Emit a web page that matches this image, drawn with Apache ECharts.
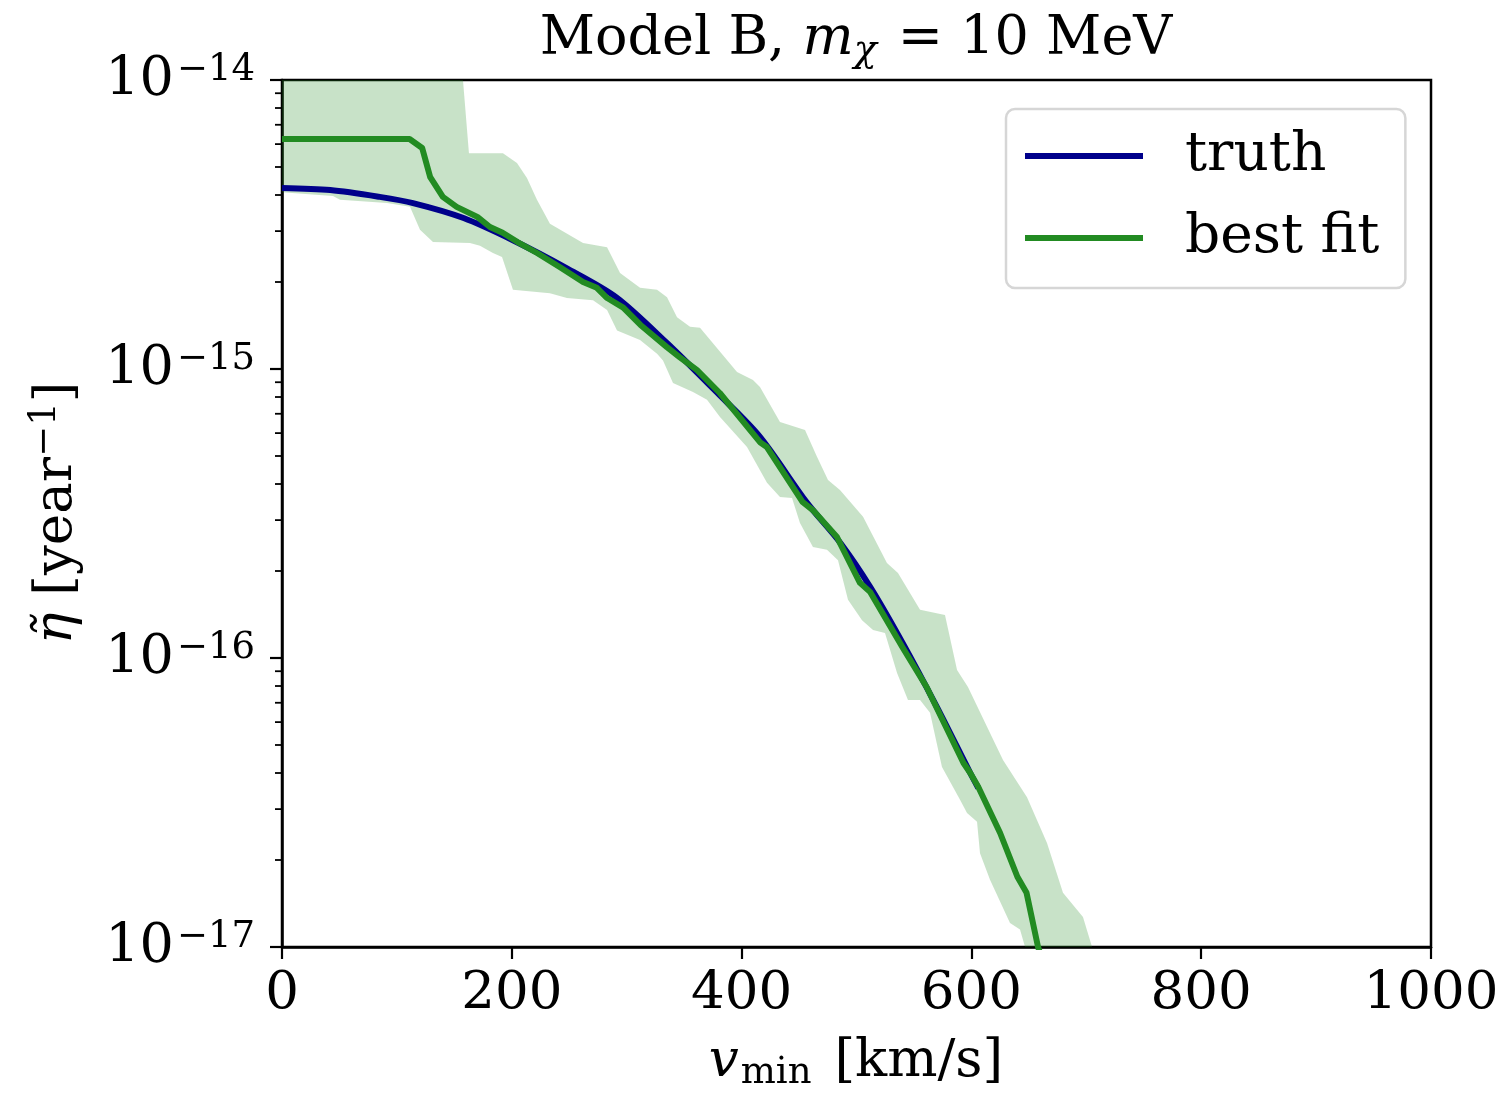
<!DOCTYPE html>
<html>
<head>
<meta charset="utf-8">
<script src="https://cdn.jsdelivr.net/npm/echarts@6/dist/echarts.min.js"></script>
<style>
html,body{margin:0;padding:0;background:#fff;overflow:hidden;}
#chart{width:1503px;height:1093px;}
</style>
</head>
<body>
<div id="chart"></div>
<script>
// ---- data ----
const xTicks = [0, 200, 400, 600, 800, 1000];
const yDecades = [1e-17, 1e-16, 1e-15, 1e-14];

// truth curve (v_min km/s, eta)
const truthV   = [0, 42, 85, 114, 158, 201, 248, 291, 335, 379, 416, 457, 486, 512, 540, 570, 599, 606];
const truthEta = [4.23e-15, 4.16e-15, 3.94e-15, 3.75e-15, 3.33e-15, 2.79e-15, 2.23e-15, 1.77e-15, 1.23e-15, 8.26e-16,
                  5.82e-16, 3.44e-16, 2.50e-16, 1.76e-16, 1.13e-16, 6.76e-17, 4.00e-17, 3.55e-17];

// best fit
const fitV   = [0, 111, 122, 129, 140, 152, 170, 181, 192, 205, 222, 242, 262, 274, 283, 297, 312, 335, 346, 361,
                381, 416, 422, 453, 462, 483, 503, 512, 540, 561, 593, 599, 606, 625, 640, 648, 658, 662];
const fitEta = [6.25e-15, 6.25e-15, 5.82e-15, 4.61e-15, 3.94e-15, 3.64e-15, 3.36e-15, 3.10e-15, 2.96e-15, 2.75e-15,
                2.52e-15, 2.25e-15, 2.00e-15, 1.91e-15, 1.76e-15, 1.63e-15, 1.42e-15, 1.19e-15, 1.10e-15, 9.93e-16,
                8.26e-16, 5.58e-16, 5.37e-16, 3.47e-16, 3.25e-16, 2.62e-16, 1.82e-16, 1.69e-16, 1.09e-16, 7.94e-17,
                4.34e-17, 4.00e-17, 3.58e-17, 2.48e-17, 1.75e-17, 1.54e-17, 1.00e-17, 9.0e-18];

// uncertainty band, upper edge
const bandUpV   = [0, 157.5, 162.7, 192.3, 204.5, 213.2, 221.9, 233.2, 262.0, 282.9, 294.2, 311.6, 326.4, 335.1, 343.8,
                   355.1, 363.8, 396.0, 409.9, 416.0, 433.4, 455.2, 465.6, 475.2, 485.6, 505.7, 526.5, 536.1, 555.3,
                   577.0, 587.5, 597.0, 616.2, 627.5, 648.4, 665.8, 679.7, 697.1, 705.0, 708];
const bandUpEta = [3e-14, 3e-14, 5.58e-15, 5.58e-15, 5.16e-15, 4.58e-15, 3.85e-15, 3.18e-15, 2.73e-15, 2.64e-15, 2.15e-15,
                   1.91e-15, 1.88e-15, 1.77e-15, 1.51e-15, 1.40e-15, 1.39e-15, 9.77e-16, 9.16e-16, 8.67e-16, 6.56e-16,
                   6.15e-16, 4.97e-16, 4.13e-16, 3.81e-16, 3.08e-16, 2.13e-16, 1.97e-16, 1.47e-16, 1.41e-16, 9.08e-17,
                   7.94e-17, 5.50e-17, 4.44e-17, 3.30e-17, 2.29e-17, 1.54e-17, 1.27e-17, 1.0e-17, 9e-18];
// uncertainty band, lower edge
const bandLoV   = [0, 44.4, 50.5, 91.4, 111.4, 120.1, 131.4, 163.6, 172.3, 183.6, 191.5, 201.0, 233.2, 248.0, 270.7,
                   282.9, 291.6, 311.6, 326.4, 331.6, 340.3, 357.7, 369.9, 381.2, 404.7, 422.1, 433.4, 443.9, 450.8,
                   462.1, 474.3, 483.9, 492.6, 504.8, 514.4, 524.8, 535.3, 544.8, 555.3, 564.0, 574.4, 590.1, 596.2,
                   604.9, 607.5, 616.2, 633.6, 642.3, 646.7, 648];
const bandLoEta = [4.09e-15, 3.97e-15, 3.85e-15, 3.75e-15, 3.64e-15, 3.03e-15, 2.75e-15, 2.73e-15, 2.67e-15, 2.52e-15,
                   2.44e-15, 1.88e-15, 1.83e-15, 1.76e-15, 1.73e-15, 1.60e-15, 1.36e-15, 1.26e-15, 1.13e-15, 1.07e-15,
                   8.95e-16, 8.32e-16, 7.82e-16, 6.82e-16, 5.37e-16, 4.04e-16, 3.61e-16, 3.58e-16, 2.93e-16, 2.42e-16,
                   2.37e-16, 2.18e-16, 1.59e-16, 1.35e-16, 1.25e-16, 1.22e-16, 8.87e-17, 7.16e-17, 7.16e-17, 6.46e-17,
                   4.20e-17, 3.23e-17, 2.91e-17, 2.71e-17, 2.11e-17, 1.71e-17, 1.21e-17, 1.15e-17, 1.0e-17, 9e-18];

// minor tick positions on the log axis (2..9 x decade)
const minorTickVals = [];
for (let d = 0; d < yDecades.length - 1; d++) {
  for (let k = 2; k <= 9; k++) minorTickVals.push(k * yDecades[d]);
}

const FONT = 'DejaVu Serif';
const FS = 53;

const chart = echarts.init(document.getElementById('chart'), null, {renderer: 'canvas', width: 1503, height: 1093});

const option = {
  backgroundColor: '#fff',
  animation: false,
  grid: {left: 282, top: 80, right: 72, bottom: 146,
         show: true, borderColor: '#000', borderWidth: 2.5, backgroundColor: 'transparent'},
  xAxis: {
    type: 'value', min: 0, max: 1000, interval: 200,
    axisLine: {show: true, onZero: false, lineStyle: {color: '#000', width: 2.5}},
    axisTick: {show: true, inside: false, length: 12, lineStyle: {color: '#000', width: 2.2}},
    splitLine: {show: false},
    axisLabel: {margin: 21, color: '#000', fontFamily: FONT, fontSize: FS,
                formatter: function (v) { return String(v); }}
  },
  yAxis: {
    type: 'log', logBase: 10, min: 1e-17, max: 1e-14,
    axisLine: {show: true, lineStyle: {color: '#000', width: 2.5}},
    axisTick: {show: true, inside: false, length: 12, lineStyle: {color: '#000', width: 2.2}},
    splitLine: {show: false},
    minorTick: {show: false},
    axisLabel: {
      margin: 27, color: '#000',
      formatter: function (v) {
        const e = Math.round(Math.log10(v));
        return '{b|10}{s|\u2212' + Math.abs(e) + '}';
      },
      rich: {
        b: {fontFamily: FONT, fontSize: 54, lineHeight: 56, verticalAlign: 'bottom', color: '#000'},
        s: {fontFamily: FONT, fontSize: 37, lineHeight: 38, verticalAlign: 'top', color: '#000', padding: [0, 0, 0, 3]}
      }
    }
  },
  legend: {
    show: true, orient: 'vertical', left: 1006, top: 109,
    padding: [17, 26, 20, 19], itemGap: 22,
    itemWidth: 118, itemHeight: 6, icon: 'rect',
    backgroundColor: 'rgba(255,255,255,0.8)', borderColor: '#d6d6d6', borderWidth: 2.5, borderRadius: 9,
    textStyle: {fontFamily: FONT, fontSize: 55, color: '#000', lineHeight: 60, padding: [0, 0, 0, 37]},
    data: ['truth', 'best fit']
  },
  graphic: [
    {
      type: 'text', x: 856, y: 40,
      style: {
        text: '{n|Model B, }{i|m}{sub|\u03c7}{n| = 10 MeV}',
        textAlign: 'center', textVerticalAlign: 'middle',
        rich: {
          n: {fontFamily: FONT, fontSize: 54, color: '#000', lineHeight: 60},
          i: {fontFamily: FONT, fontStyle: 'italic', fontSize: 54, color: '#000', lineHeight: 60},
          sub: {fontFamily: FONT, fontStyle: 'italic', fontSize: 38, color: '#000', lineHeight: 60, verticalAlign: 'bottom', padding: [0, 4, 0, 0]}
        }
      }
    },
    {
      type: 'text', x: 856, y: 1062,
      style: {
        text: '{i|v}{sub|min}{n| [km/s]}',
        textAlign: 'center', textVerticalAlign: 'middle',
        rich: {
          n: {fontFamily: FONT, fontSize: FS, color: '#000', lineHeight: 60},
          i: {fontFamily: FONT, fontStyle: 'italic', fontSize: FS, color: '#000', lineHeight: 60},
          sub: {fontFamily: FONT, fontSize: 37, color: '#000', lineHeight: 60, verticalAlign: 'bottom', padding: [0, 6, 0, 2]}
        }
      }
    },
    {
      type: 'text', x: 57, y: 513, rotation: Math.PI / 2,
      style: {
        text: '{i|\u03b7\u0303}{n| [year}{sup|\u22121}{n|]}',
        textAlign: 'center', textVerticalAlign: 'middle',
        rich: {
          n: {fontFamily: FONT, fontSize: FS, color: '#000', lineHeight: 60},
          i: {fontFamily: FONT, fontStyle: 'italic', fontSize: FS, color: '#000', lineHeight: 60},
          sup: {fontFamily: FONT, fontSize: 37, color: '#000', lineHeight: 60, verticalAlign: 'top'}
        }
      }
    }
  ],
  series: [
    {
      name: 'band', type: 'custom', z: 1, silent: true, clip: true,
      data: [0],
      renderItem: function (params, api) {
        const cs = params.coordSys;
        const pts = [];
        const clampPt = function (p) {
          return [Math.max(cs.x, Math.min(cs.x + cs.width, p[0])),
                  Math.max(cs.y, Math.min(cs.y + cs.height, p[1]))];
        };
        for (let i = 0; i < bandUpV.length; i++) pts.push(clampPt(api.coord([bandUpV[i], bandUpEta[i]])));
        for (let i = bandLoV.length - 1; i >= 0; i--) pts.push(clampPt(api.coord([bandLoV[i], bandLoEta[i]])));
        return {type: 'polygon', shape: {points: pts}, style: {fill: 'rgba(34,139,34,0.25)', stroke: null}};
      }
    },
    {
      name: 'minorTicks', type: 'custom', z: 5, silent: true, clip: false,
      data: minorTickVals.map(v => [0, v]),
      renderItem: function (params, api) {
        const cs = params.coordSys;
        const p = api.coord([0, api.value(1)]);
        return {type: 'line', shape: {x1: cs.x - 7, y1: p[1], x2: cs.x, y2: p[1]},
                style: {stroke: '#000', lineWidth: 1.8}};
      }
    },
    {
      name: 'truth', type: 'line', z: 3, smooth: 0.3, symbol: 'none', clip: true,
      color: '#00008b',
      lineStyle: {color: '#00008b', width: 6},
      data: truthV.map((v, i) => [v, truthEta[i]])
    },
    {
      name: 'best fit', type: 'line', z: 4, smooth: false, symbol: 'none', clip: true,
      color: '#228b22',
      lineStyle: {color: '#228b22', width: 6, join: 'round'},
      data: fitV.map((v, i) => [v, fitEta[i]])
    }
  ]
};
chart.setOption(option);
</script>
</body>
</html>
